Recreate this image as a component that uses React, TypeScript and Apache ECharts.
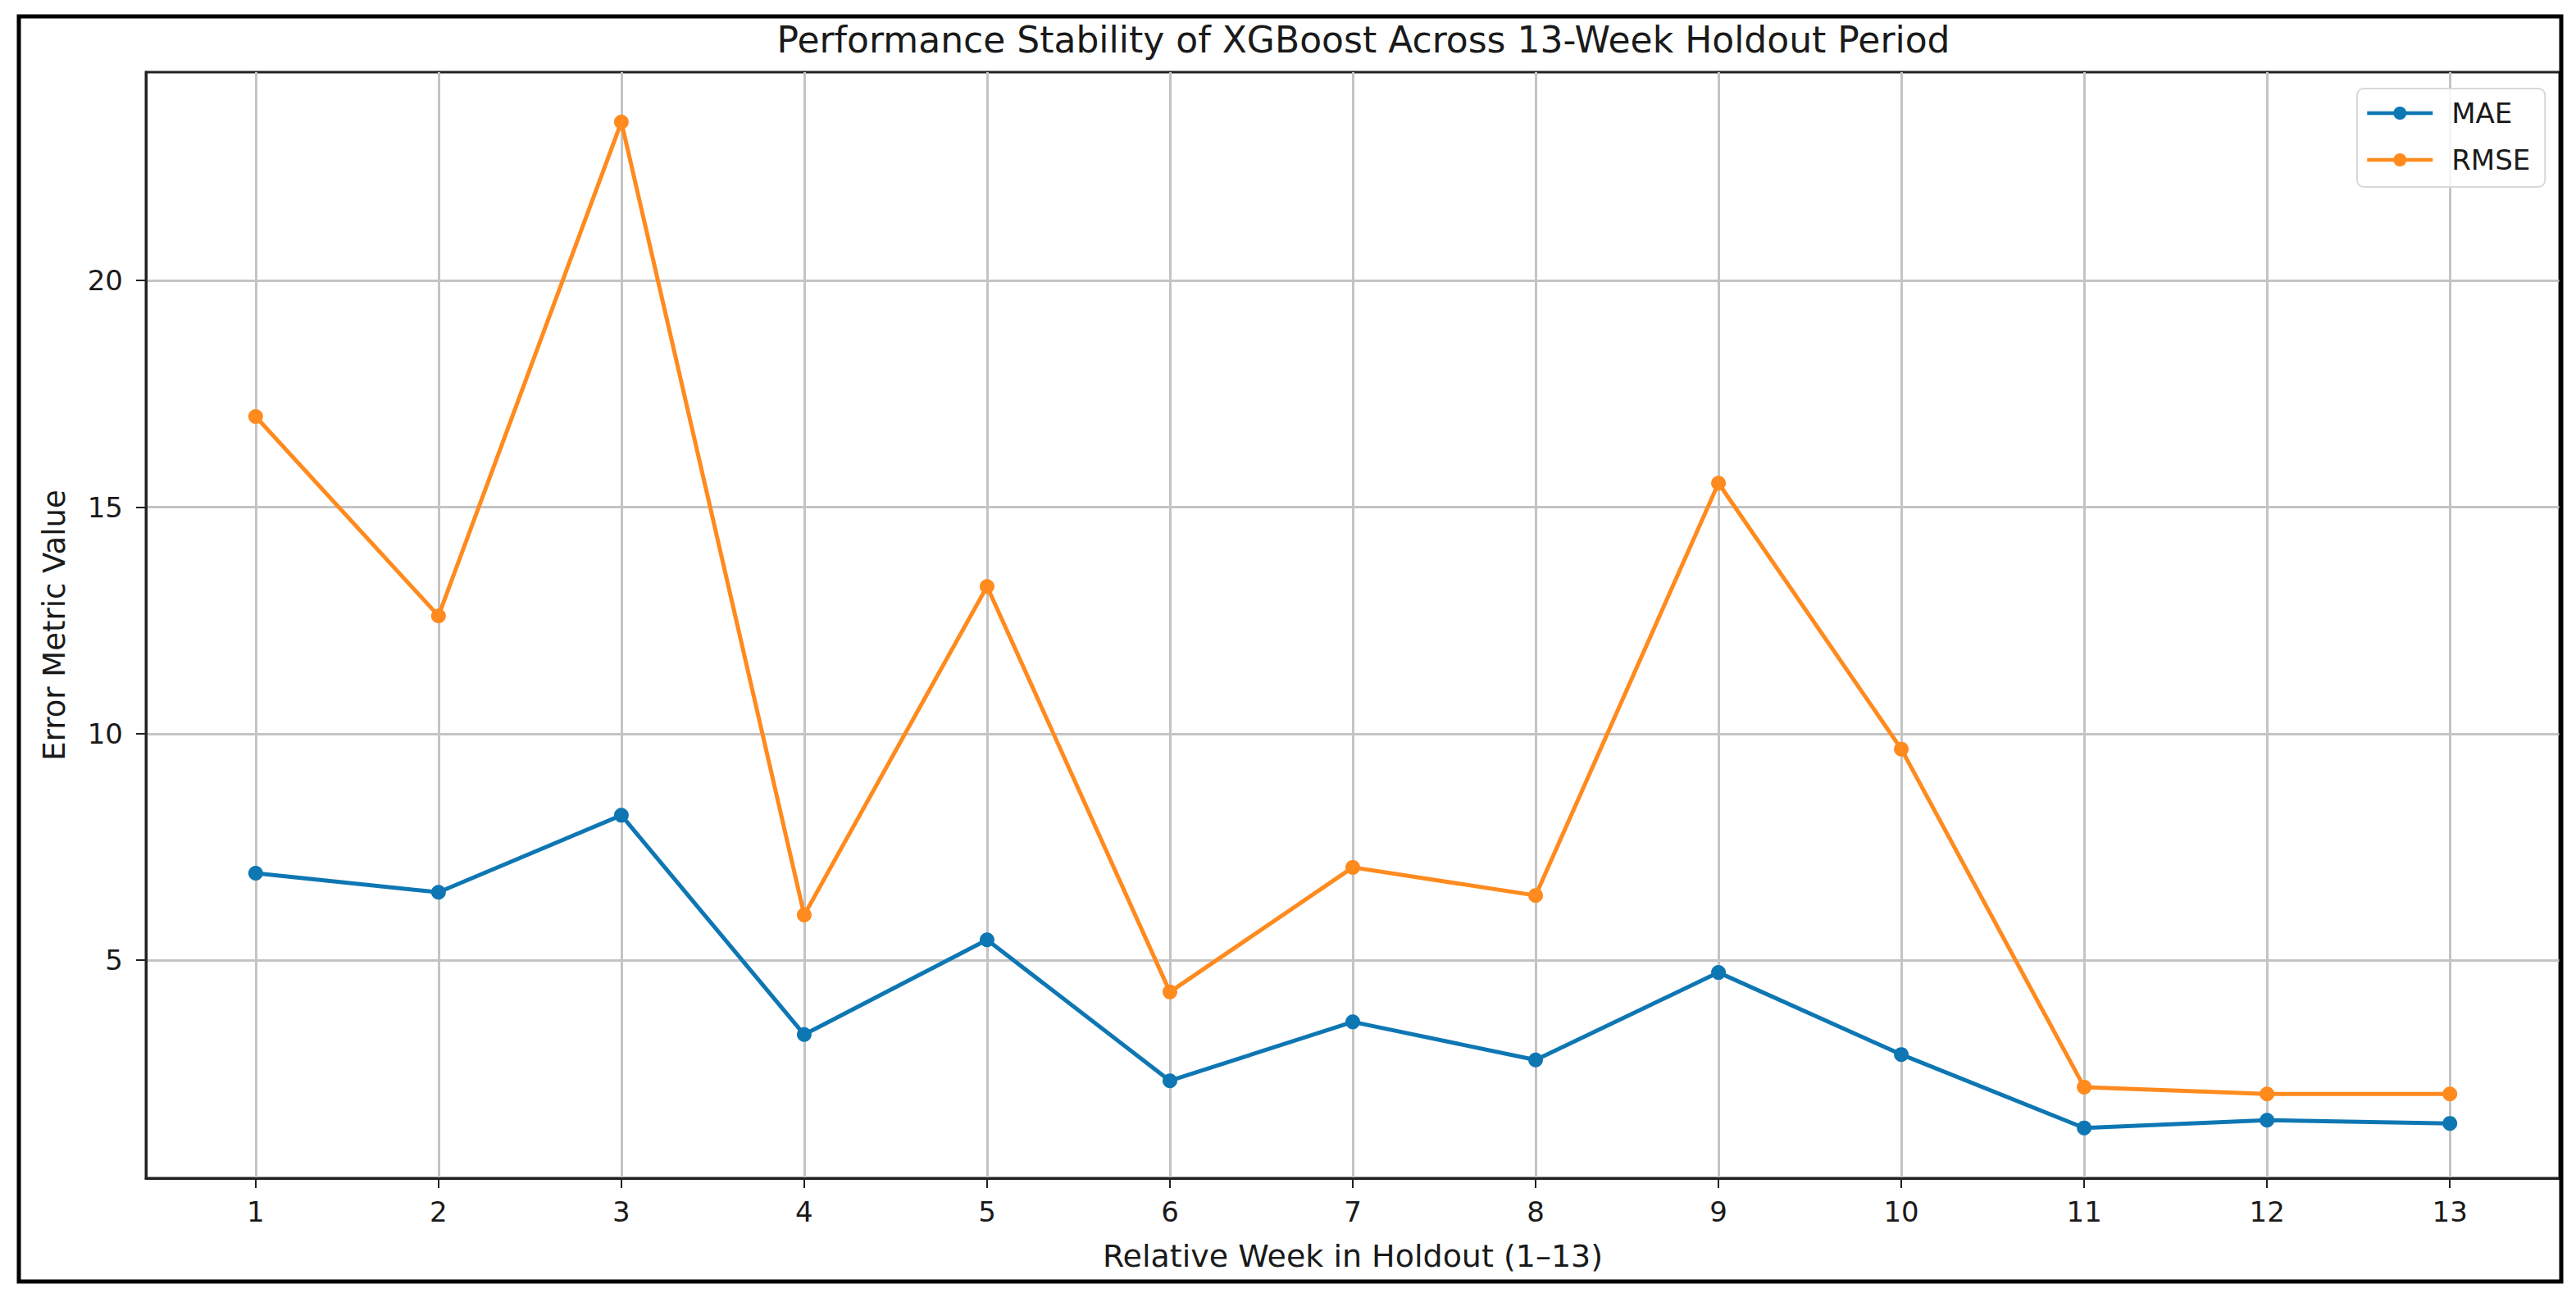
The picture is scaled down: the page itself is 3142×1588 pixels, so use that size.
import { useEffect, useRef } from "react";
import * as echarts from "echarts";

const weeks = [1, 2, 3, 4, 5, 6, 7, 8, 9, 10, 11, 12, 13];
const maeValues = [6.92, 6.5, 8.2, 3.36, 5.45, 2.34, 3.64, 2.8, 4.73, 2.92, 1.3, 1.47, 1.4];
const rmseValues = [17.0, 12.6, 23.5, 6.0, 13.25, 4.3, 7.05, 6.43, 15.53, 9.66, 2.2, 2.05, 2.05];
const yTicks = [5, 10, 15, 20];
const seriesNames = ["MAE", "RMSE"];
const titleText = "Performance Stability of XGBoost Across 13-Week Holdout Period";
const xLabel = "Relative Week in Holdout (1\u201313)";
const yLabel = "Error Metric Value";

const FONT = "DejaVu Sans";
const MAE_COLOR = "#0e77b3";
const RMSE_COLOR = "#ff8a1e";

export default function App() {
  const ref = useRef<HTMLDivElement>(null);

  useEffect(() => {
    if (!ref.current) return;
    const chart = echarts.init(ref.current, undefined, { renderer: "svg" });
    const axisLabelStyle = { fontSize: 34, color: "#1a1a1a", fontFamily: FONT };
    chart.setOption({
      animation: false,
      backgroundColor: "#ffffff",
      grid: {
        left: 170,
        top: 80,
        width: 2944,
        height: 1349,
        show: true,
        borderColor: "#222",
        borderWidth: 3,
        backgroundColor: "transparent",
      },
      graphic: [
        {
          type: "rect",
          shape: { x: 15, y: 12, width: 3101, height: 1543 },
          style: { fill: "none", stroke: "#000", lineWidth: 5 },
          z: 100,
        },
        {
          type: "text",
          x: 1655,
          y: 40,
          style: {
            text: titleText,
            fontSize: 44,
            fontFamily: FONT,
            fill: "#1a1a1a",
            textAlign: "center",
            textVerticalAlign: "middle",
          },
        },
      ],
      legend: {
        orient: "vertical",
        left: 2867,
        top: 100,
        data: seriesNames,
        backgroundColor: "rgba(255,255,255,0.85)",
        borderColor: "#d8d8d8",
        borderWidth: 2,
        borderRadius: 8,
        padding: [13, 18, 16, 10],
        itemWidth: 80,
        itemHeight: 20,
        itemGap: 23,
        lineStyle: { width: 4.5 },
        textStyle: {
          fontSize: 34,
          color: "#1a1a1a",
          fontFamily: FONT,
          padding: [0, 0, 0, 18],
        },
      },
      xAxis: {
        type: "value",
        min: 0.4,
        max: 13.6,
        name: xLabel,
        nameLocation: "middle",
        nameGap: 76,
        nameTextStyle: { fontSize: 38, color: "#1a1a1a", fontFamily: FONT },
        axisLine: { show: true, lineStyle: { color: "#222", width: 3 } },
        axisTick: {
          show: true,
          customValues: weeks,
          length: 12,
          lineStyle: { color: "#222", width: 2 },
        },
        axisLabel: { ...axisLabelStyle, customValues: weeks, margin: 24 },
        splitLine: { show: true, lineStyle: { color: "#c4c4c4", width: 3 } },
      },
      yAxis: {
        type: "value",
        min: 0.19,
        max: 24.6,
        name: yLabel,
        nameLocation: "middle",
        nameGap: 93,
        nameTextStyle: { fontSize: 37, color: "#1a1a1a", fontFamily: FONT },
        axisLine: { show: true, lineStyle: { color: "#222", width: 3 } },
        axisTick: {
          show: true,
          customValues: yTicks,
          length: 12,
          lineStyle: { color: "#222", width: 2 },
        },
        axisLabel: { ...axisLabelStyle, customValues: yTicks, margin: 28 },
        splitLine: { show: true, lineStyle: { color: "#c4c4c4", width: 3 } },
      },
      series: [
        {
          name: seriesNames[0],
          type: "line",
          data: weeks.map((w, i) => [w, maeValues[i]]),
          symbol: "circle",
          symbolSize: 18,
          itemStyle: { color: MAE_COLOR },
          lineStyle: { color: MAE_COLOR, width: 5 },
        },
        {
          name: seriesNames[1],
          type: "line",
          data: weeks.map((w, i) => [w, rmseValues[i]]),
          symbol: "circle",
          symbolSize: 18,
          itemStyle: { color: RMSE_COLOR },
          lineStyle: { color: RMSE_COLOR, width: 5 },
        },
      ],
    });
    return () => chart.dispose();
  }, []);

  return <div ref={ref} style={{ width: 3126, height: 1572 }} />;
}
